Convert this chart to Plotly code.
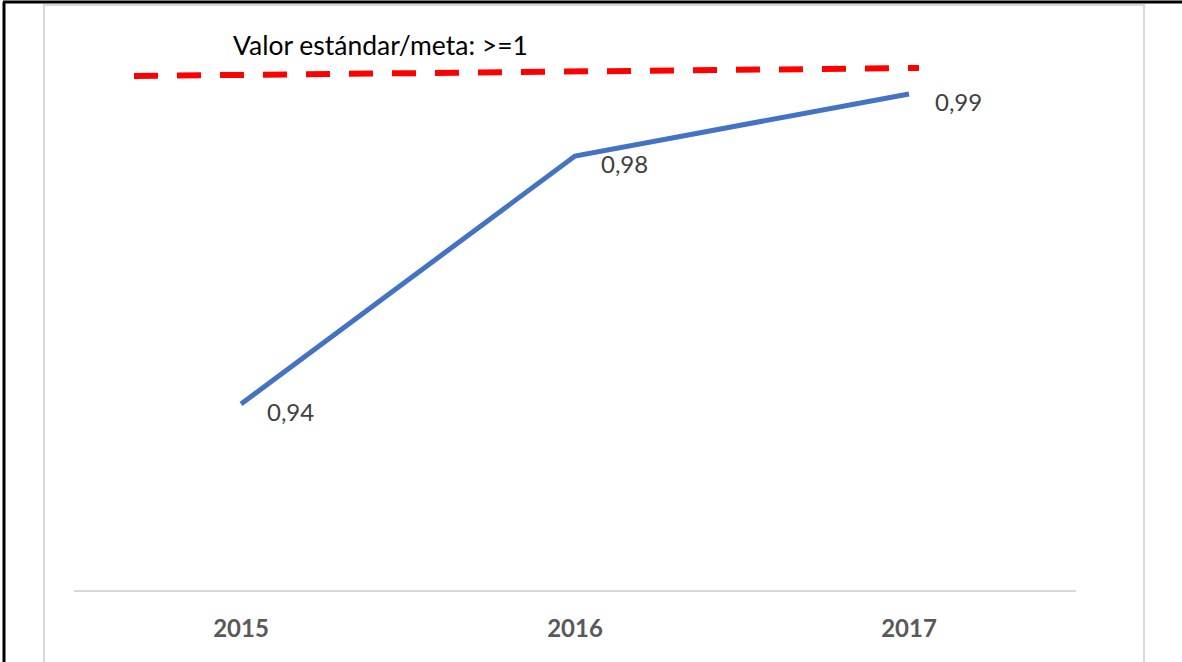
import plotly.graph_objects as go

# Indicator values per year
years = ["2015", "2016", "2017"]
values = [0.94, 0.98, 0.99]
value_labels = ["0,94", "0,98", "0,99"]
target_text = "Valor estándar/meta: >=1"

W, H = 1182, 662
L, R, T, B = 74, 106, 32, 72
PW, PH = W - L - R, H - T - B


def px(x):
    return (x - L) / PW


def py(y):
    return (H - B - y) / PH


fig = go.Figure()
fig.add_trace(go.Scatter(
    x=years, y=values, mode="lines",
    line=dict(color="#4472C4", width=5),
    hoverinfo="skip", showlegend=False,
))

# data labels to the right of each point (category index on the x axis)
for i, (v, lab) in enumerate(zip(values, value_labels)):
    fig.add_annotation(
        xref="x", yref="y",
        x=i, y=v, text=lab, showarrow=False,
        xanchor="left", yanchor="middle", xshift=24, yshift=-7,
        font=dict(family="Lato", size=24, color="#404040"),
    )

# target annotation text and hand-drawn dashed reference line
fig.add_annotation(
    xref="paper", yref="paper", x=px(380), y=py(45), text=target_text,
    showarrow=False, xanchor="center", yanchor="middle",
    font=dict(family="Lato", size=26.5, color="#000000"),
)
shapes = [
    dict(type="line", xref="paper", yref="paper",
         x0=px(134), y0=py(76), x1=px(919), y1=py(68),
         line=dict(color="#FF0000", width=6, dash="24px,19px")),
    # chart frame (light gray)
    dict(type="line", xref="paper", yref="paper", x0=px(44), y0=py(5), x1=px(44), y1=py(H + 5),
         line=dict(color="#d9d9d9", width=2)),
    dict(type="line", xref="paper", yref="paper", x0=px(43), y0=py(5), x1=px(1145), y1=py(5),
         line=dict(color="#d9d9d9", width=2)),
    dict(type="line", xref="paper", yref="paper", x0=px(1144), y0=py(5), x1=px(1144), y1=py(H + 5),
         line=dict(color="#d9d9d9", width=2)),
    # outer black border
    dict(type="line", xref="paper", yref="paper", x0=px(4), y0=py(2), x1=px(4), y1=py(H + 5),
         line=dict(color="#000000", width=3)),
    dict(type="line", xref="paper", yref="paper", x0=px(3), y0=py(2), x1=px(W + 5), y1=py(2),
         line=dict(color="#000000", width=3)),
]

fig.update_layout(
    width=W, height=H,
    margin=dict(l=L, r=R, t=T, b=B),
    paper_bgcolor="white", plot_bgcolor="white",
    shapes=shapes,
    xaxis=dict(
        type="category", range=[-0.5, 2.5],
        showline=True, linecolor="#d9d9d9", linewidth=2,
        showgrid=False, zeroline=False, ticks="",
        ticklabelstandoff=16,
        tickfont=dict(family="Lato", size=24, color="#595959", weight="bold"),
    ),
    yaxis=dict(range=[0.91, 1.0], showticklabels=False, showline=False,
               showgrid=False, zeroline=False, ticks=""),
)

fig.write_html("out.html")
